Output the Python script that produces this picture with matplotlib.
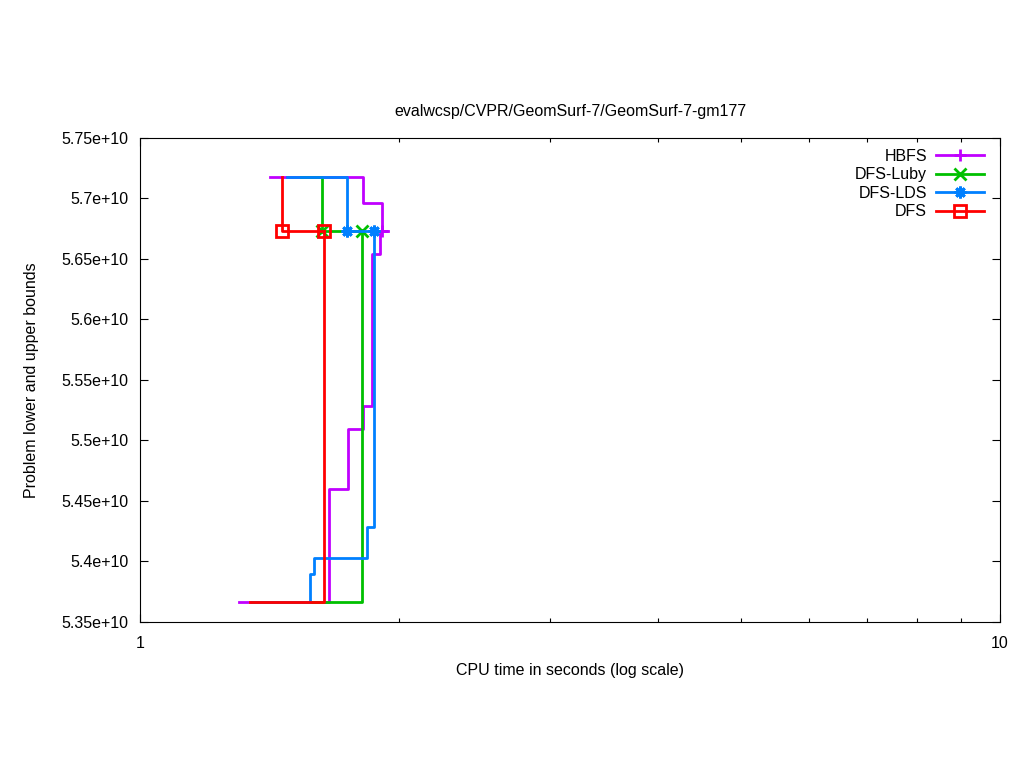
import matplotlib
matplotlib.use('Agg')
import matplotlib.pyplot as plt
from matplotlib.ticker import FixedLocator, LogLocator, NullFormatter, FuncFormatter

plt.rcParams['font.family'] = ['Liberation Sans', 'DejaVu Sans']
plt.rcParams['font.size'] = 11.5

# solver runs: (time, bound) pairs, drawn as steps
names = ['HBFS', 'DFS-Luby', 'DFS-LDS', 'DFS']
colors = ['#C000FF', '#00C000', '#0080FF', '#FF0000']
markers = ['+', 'x', (8, 2, 0), 's']

hbfs_ub_t = [1.417, 1.817, 1.914, 1.9425]
hbfs_ub_v = [5.7178e10, 5.6963e10, 5.6731e10, 5.6731e10]
hbfs_lb_t = [1.3035, 1.659, 1.746, 1.817, 1.8615, 1.9013]
hbfs_lb_v = [5.3665e10, 5.4599e10, 5.5095e10, 5.5285e10, 5.6541e10, 5.6731e10]

luby_ub_t = [1.54, 1.628, 1.8123]
luby_ub_v = [5.7178e10, 5.6731e10, 5.6731e10]
luby_lb_t = [1.35, 1.8123]
luby_lb_v = [5.3665e10, 5.6731e10]

lds_ub_t = [1.4826, 1.739, 1.869]
lds_ub_v = [5.7178e10, 5.6731e10, 5.6731e10]
lds_lb_t = [1.35, 1.5765, 1.5935, 1.8367, 1.869]
lds_lb_v = [5.3665e10, 5.3897e10, 5.4029e10, 5.4285e10, 5.6731e10]

dfs_ub_t = [1.4629, 1.4629, 1.6345]
dfs_ub_v = [5.7178e10, 5.6731e10, 5.6731e10]
dfs_lb_t = [1.342, 1.6345]
dfs_lb_v = [5.3665e10, 5.6731e10]

runs = [
    (hbfs_ub_t, hbfs_ub_v, hbfs_lb_t, hbfs_lb_v, [2]),
    (luby_ub_t, luby_ub_v, luby_lb_t, luby_lb_v, [1, 2]),
    (lds_ub_t, lds_ub_v, lds_lb_t, lds_lb_v, [1, 2]),
    (dfs_ub_t, dfs_ub_v, dfs_lb_t, dfs_lb_v, [1, 2]),
]

yticks = [5.35e10, 5.4e10, 5.45e10, 5.5e10, 5.55e10, 5.6e10, 5.65e10, 5.7e10, 5.75e10]

fig = plt.figure(figsize=(10.24, 7.68), dpi=100)
ax = fig.add_axes([140 / 1024, 146 / 768, 860 / 1024, 484 / 768])

handles = []
for (ut, uv, lt, lv, mk), name, c, m in zip(runs, names, colors, markers):
    ax.plot(lt, lv, drawstyle='steps-post', color=c, lw=2)
    h, = ax.plot(ut, uv, drawstyle='steps-post', color=c, lw=2,
                 marker=m, markevery=mk, ms=8.5, mew=2, mfc='none', label=name)
    handles.append(h)

ax.set_xscale('log')
ax.set_xlim(1, 10)
ax.set_ylim(5.35e10, 5.75e10)
ax.xaxis.set_major_locator(FixedLocator([1, 10]))
ax.xaxis.set_major_formatter(FuncFormatter(lambda v, p: '%g' % v))
ax.xaxis.set_minor_locator(LogLocator(base=10, subs=range(2, 10)))
ax.xaxis.set_minor_formatter(NullFormatter())
ax.yaxis.set_major_locator(FixedLocator(yticks))
ax.yaxis.set_major_formatter(FuncFormatter(lambda v, p: '%g' % v))
ax.tick_params(which='both', direction='in', top=True, right=True, width=0.8)
ax.tick_params(which='major', length=6)
ax.tick_params(which='minor', length=3)
ax.tick_params(axis='y', pad=8.5)
ax.tick_params(axis='x', pad=10)
for s in ax.spines.values():
    s.set_linewidth(0.8)

ax.set_title('evalwcsp/CVPR/GeomSurf-7/GeomSurf-7-gm177', fontsize=11.5, pad=16)
ax.set_xlabel('CPU time in seconds (log scale)', labelpad=9)
ax.set_ylabel('Problem lower and upper bounds', labelpad=16)

ax.legend(handles=handles, loc='upper right', bbox_to_anchor=(0.981, 0.978),
          frameon=False, markerfirst=False, handlelength=3.0, handletextpad=0.55,
          labelspacing=0.22, borderpad=0, borderaxespad=0)

fig.savefig('out.png', dpi=100)
